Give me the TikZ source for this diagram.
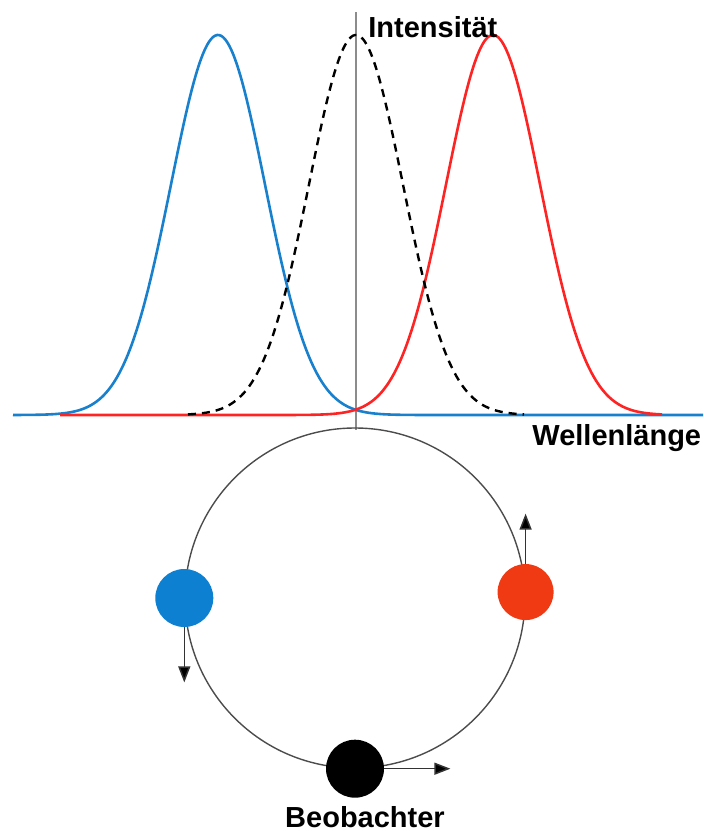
\documentclass[tikz,border=0pt]{standalone}
\usepackage{fontspec}
\setmainfont{Liberation Sans}
\usetikzlibrary{arrows.meta, positioning, calc}
\definecolor{specblue}{RGB}{24,128,204}
\definecolor{specred}{RGB}{255,36,36}
\definecolor{ballblue}{RGB}{14,128,210}
\definecolor{ballred}{RGB}{240,58,20}
\newcommand{\lineprofile}[1]{415-380*exp(-0.5*((\x-#1)/47)^2)}
\tikzset{
    spectrum/.style={line width=1.3pt, smooth, samples=170},
    axis line/.style={draw=black!45, line width=1pt},
    orbit line/.style={circle, draw=black!70, line width=0.7pt, inner sep=0pt, minimum size=170pt},
    body/.style={circle, inner sep=0pt, minimum size=29pt},
    motion/.style={-{Triangle[length=8pt, width=6pt, fill=black]}, line width=0.75pt, draw=black!80},
    label text/.style={font=\bfseries\fontsize{14.5}{17}\selectfont, inner sep=0pt}
}

\begin{document}
\begin{tikzpicture}[x=0.5pt, y=-0.5pt]
    \useasboundingbox (0,0) rectangle (703,831);

    % Axes
    \coordinate (axistop) at (356,12);
    \coordinate (axisfoot) at (356,430);
    \draw[axis line] (axistop) -- (axisfoot);

    % Spectra
    \draw[spectrum, specblue] plot[domain=13:703] ({\x},{\lineprofile{218}});
    \draw[spectrum, specred] plot[domain=60:662] ({\x},{\lineprofile{493}});
    \draw[spectrum, black, line width=1.2pt, dash pattern=on 4pt off 3pt]
        plot[domain=188:524] ({\x},{\lineprofile{356}});

    % Labels of the axes
    \node[label text, anchor=base west] (intensity) at (368,37) {Intensität};
    \node[label text, anchor=base west] (wavelength) at (532,445) {Wellenlänge};

    % Orbit and bodies
    \node[orbit line] (orbit) at (355,598) {};
    \node[body, fill=ballblue] (blueball) at (orbit.180) {};
    \node[body, fill=ballred, minimum size=28pt] (redball) at (orbit.2) {};
    \node[body, fill=black] (observer) at (orbit.270) {};
    \node[label text, below=4pt of observer, xshift=5pt] (observerlabel) {Beobachter};

    % Motion
    \coordinate[below=27.5pt of blueball] (bluetip);
    \coordinate[above=25pt of redball] (redtip);
    \coordinate[right=33pt of observer] (observertip);
    \draw[motion] (blueball) -- (bluetip);
    \draw[motion] (redball) -- (redtip);
    \draw[motion] (observer) -- (observertip);
\end{tikzpicture}
\end{document}
